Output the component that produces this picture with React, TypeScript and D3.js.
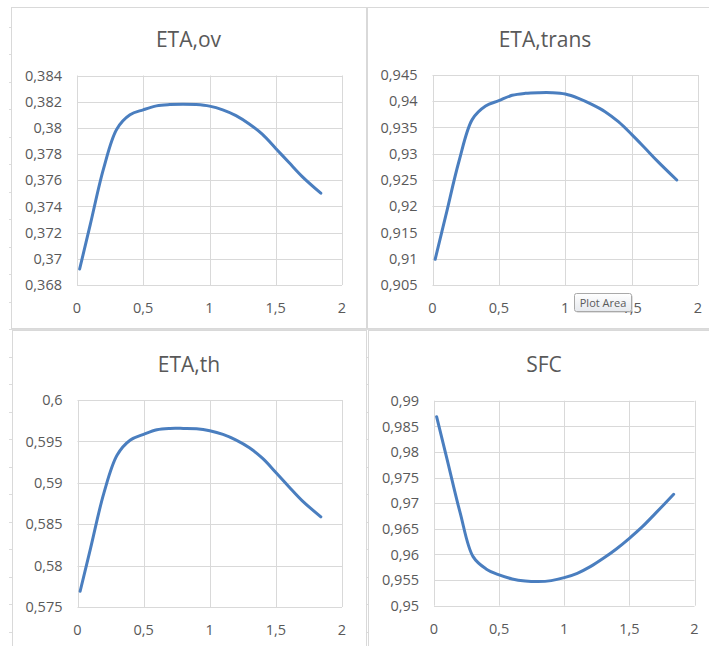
import React from 'react';
import * as d3 from 'd3';

// ---- data ----
const xValues = [0.02, 0.1, 0.2, 0.3, 0.4, 0.5, 0.6, 0.7, 0.8, 0.9, 1.0, 1.1, 1.2, 1.3, 1.4, 1.5, 1.6, 1.7, 1.84];
const etaOv = [0.36922, 0.37261, 0.37687, 0.3799, 0.381, 0.38138, 0.38168, 0.38178, 0.38181, 0.38178, 0.38166, 0.38138, 0.38094, 0.3803, 0.3795, 0.37843, 0.37735, 0.37628, 0.37501];
const etaTrans = [0.90989, 0.9182, 0.92862, 0.93655, 0.9391, 0.94011, 0.94113, 0.94151, 0.94163, 0.94163, 0.94138, 0.94056, 0.93941, 0.93802, 0.93611, 0.9337, 0.9311, 0.92845, 0.925];
const etaTh = [0.5769, 0.58218, 0.58879, 0.59335, 0.59516, 0.59585, 0.59641, 0.59657, 0.59657, 0.59653, 0.59629, 0.59585, 0.59516, 0.59423, 0.59294, 0.59125, 0.5895, 0.58782, 0.58589];
const sfc = [0.98688, 0.97862, 0.96822, 0.95957, 0.95717, 0.956, 0.95522, 0.95482, 0.9547, 0.95489, 0.95547, 0.95632, 0.95762, 0.95925, 0.96107, 0.96315, 0.96542, 0.96802, 0.97173];

const xTicks = [0, 0.5, 1, 1.5, 2];
const ovTicks = [0.368, 0.37, 0.372, 0.374, 0.376, 0.378, 0.38, 0.382, 0.384];
const transTicks = [0.905, 0.91, 0.915, 0.92, 0.925, 0.93, 0.935, 0.94, 0.945];
const thTicks = [0.575, 0.58, 0.585, 0.59, 0.595, 0.6];
const sfcTicks = [0.95, 0.955, 0.96, 0.965, 0.97, 0.975, 0.98, 0.985, 0.99];

const titles = ['ETA,ov', 'ETA,trans', 'ETA,th', 'SFC'];

// ---- layout ----
const W = 709;
const H = 646;
const FONT = "'Open Sans', 'Liberation Sans', sans-serif";
const TEXT = '#595959';
const GRID = '#d9d9d9';
const LINE = '#4a7ebf';

const fmt = (v: number) => String(+v.toFixed(4)).replace('.', ',');

type Panel = {
  title: string;
  values: number[];
  yTicks: number[];
  frame: { x: number; y: number; w: number; h: number };
  plot: { l: number; r: number; t: number; b: number };
  titleX: number;
  titleY: number;
};

const panels: Panel[] = [
  { title: titles[0], values: etaOv, yTicks: ovTicks, frame: { x: 11, y: 7, w: 355, h: 321 }, plot: { l: 77, r: 342, t: 75.5, b: 285 }, titleX: 188.5, titleY: 47 },
  { title: titles[1], values: etaTrans, yTicks: transTicks, frame: { x: 367, y: 7, w: 360, h: 321 }, plot: { l: 432.5, r: 698, t: 75, b: 285 }, titleX: 545, titleY: 46.5 },
  { title: titles[2], values: etaTh, yTicks: thTicks, frame: { x: 12, y: 330, w: 354, h: 330 }, plot: { l: 77.5, r: 342, t: 400, b: 607 }, titleX: 189, titleY: 371.5 },
  { title: titles[3], values: sfc, yTicks: sfcTicks, frame: { x: 368, y: 330, w: 355, h: 330 }, plot: { l: 434, r: 694.5, t: 400.7, b: 605.7 }, titleX: 544, titleY: 371.5 },
];

const crisp = (v: number) => Math.round(v) + 0.5;

function ChartPanel({ p }: { p: Panel }) {
  const x = d3.scaleLinear().domain([xTicks[0], xTicks[xTicks.length - 1]]).range([p.plot.l, p.plot.r]);
  const y = d3.scaleLinear().domain([p.yTicks[0], p.yTicks[p.yTicks.length - 1]]).range([p.plot.b, p.plot.t]);
  const line = d3
    .line<number>()
    .x((_, i) => x(xValues[i]))
    .y((d) => y(d))
    .curve(d3.curveCatmullRom.alpha(0.5));
  return (
    <g>
      <rect x={p.frame.x + 0.5} y={p.frame.y + 0.5} width={p.frame.w} height={p.frame.h} fill="#fff" stroke={GRID} strokeWidth={1} />
      <text x={p.titleX} y={p.titleY} textAnchor="middle" fontFamily={FONT} fontSize={21} fill={TEXT}>
        {p.title}
      </text>
      {p.yTicks.map((t) => (
        <line key={'gy' + t} x1={p.plot.l} x2={p.plot.r} y1={crisp(y(t))} y2={crisp(y(t))} stroke={GRID} strokeWidth={1} />
      ))}
      {xTicks.map((t) => (
        <line key={'gx' + t} x1={crisp(x(t))} x2={crisp(x(t))} y1={p.plot.t} y2={p.plot.b} stroke={GRID} strokeWidth={1} />
      ))}
      {p.yTicks.map((t) => (
        <text key={'ly' + t} x={p.plot.l - 15} y={y(t)} dy="0.36em" textAnchor="end" fontFamily={FONT} fontSize={14.5} fill={TEXT}>
          {fmt(t)}
        </text>
      ))}
      {xTicks.map((t) => (
        <text key={'lx' + t} x={x(t)} y={p.plot.b + 23} dy="0.36em" textAnchor="middle" fontFamily={FONT} fontSize={14.5} fill={TEXT}>
          {fmt(t)}
        </text>
      ))}
      <path d={line(p.values) || ''} fill="none" stroke={LINE} strokeWidth={3} strokeLinecap="round" strokeLinejoin="round" />
    </g>
  );
}

const rowLines = d3.range(-12, 12).map((k) => 329 + 27.5 * k);
const colLines = [97, 186, 275, 364, 452, 541, 630];

export default function App() {
  return (
    <div style={{ position: 'absolute', left: 0, top: 0, width: W, height: H, background: '#fff' }}>
      <svg width={W} height={H} style={{ display: 'block' }}>
        <rect x={0} y={0} width={W} height={H} fill="#fff" />
        {rowLines.map((r) => (
          <line key={'r' + r} x1={9} x2={W} y1={crisp(r)} y2={crisp(r)} stroke="#dcdcdc" strokeWidth={1} />
        ))}
        {colLines.map((c) => (
          <line key={'c' + c} x1={crisp(c)} x2={crisp(c)} y1={315} y2={345} stroke="#dcdcdc" strokeWidth={1} />
        ))}
        {panels.map((p) => (
          <ChartPanel key={p.title} p={p} />
        ))}
        <defs>
          <linearGradient id="tipg" x1="0" y1="0" x2="0" y2="1">
            <stop offset="0" stopColor="#ffffff" />
            <stop offset="1" stopColor="#e6e9ee" />
          </linearGradient>
        </defs>
        <rect x={576} y={295} width={57} height={18} rx={2} fill="rgba(0,0,0,0.12)" />
        <rect x={574.5} y={293.5} width={57} height={18} rx={2} fill="url(#tipg)" stroke="#a9a9a9" strokeWidth={1} />
        <text x={603} y={306.5} textAnchor="middle" fontFamily={FONT} fontSize={11} fill="#5a5a5a">
          Plot Area
        </text>
      </svg>
    </div>
  );
}
